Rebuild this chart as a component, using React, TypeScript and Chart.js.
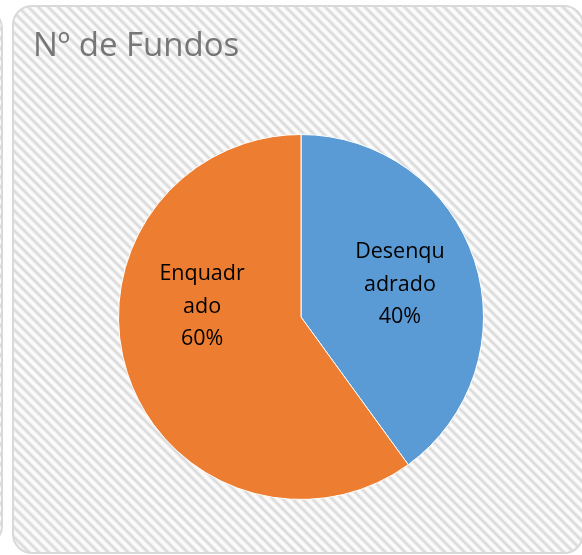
import React, { useEffect, useRef } from "react";
import { Chart, registerables } from "chart.js";

Chart.register(...registerables);

const categories = ["Desenquadrado", "Enquadrado"];
const values = [40, 60];
const labelLines = [
  ["Desenqu", "adrado", "40%"],
  ["Enquadr", "ado", "60%"],
];
const colors = ["#5B9BD5", "#ED7D31"];
const titleText = "Nº de Fundos";

// polar label anchors (degrees from 3 o'clock, fraction of radius)
const labelAngles = [-18, 186];
const labelRadii = [0.57, 0.545];

const sliceLabels = {
  id: "sliceLabels",
  afterDatasetsDraw(chart: any) {
    const ctx = chart.ctx;
    const meta = chart.getDatasetMeta(0);
    ctx.save();
    ctx.font = "21.5px 'Open Sans'";
    ctx.fillStyle = "#000";
    ctx.textAlign = "center";
    ctx.textBaseline = "middle";
    meta.data.forEach((arc: any, i: number) => {
      const a = (labelAngles[i] * Math.PI) / 180;
      const r = arc.outerRadius * labelRadii[i];
      const cx = arc.x + Math.cos(a) * r;
      const cy = arc.y + Math.sin(a) * r;
      const lines = labelLines[i];
      const lh = 32.5;
      lines.forEach((t, j) => {
        ctx.fillText(t, cx, cy + (j - (lines.length - 1) / 2) * lh);
      });
    });
    ctx.restore();
  },
};

export default function App() {
  const ref = useRef<HTMLCanvasElement>(null);
  useEffect(() => {
    document.body.style.margin = "0";
    const chart = new Chart(ref.current!, {
      type: "pie",
      data: {
        labels: categories,
        datasets: [
          {
            data: values,
            backgroundColor: colors,
            borderColor: "#ffffff",
            borderWidth: 1,
          },
        ],
      },
      options: {
        responsive: false,
        animation: false,
        devicePixelRatio: 1,
        layout: { padding: { left: 33, right: 13, top: 20, bottom: 55 } },
        plugins: {
          legend: { display: false },
          tooltip: { enabled: false },
          title: {
            display: true,
            text: titleText,
            align: "start",
            color: "#767676",
            font: { family: "'Open Sans'", size: 33, weight: "normal", lineHeight: 1.2 },
            padding: { top: 7, bottom: 67.4 },
          },
        },
      },
      plugins: [sliceLabels],
    });
    return () => chart.destroy();
  }, []);

  const hatch =
    "repeating-linear-gradient(45deg, #ffffff 0px, #f4f4f4 1.5px, #d6d6d6 3.5px, #f4f4f4 5.5px, #ffffff 7px)";

  return (
    <div style={{ position: "fixed", left: 0, top: 0, width: 582, height: 555, overflow: "hidden", background: "#fff" }}>
      <div
        style={{
          position: "absolute",
          left: -570,
          top: 8,
          width: 573,
          height: 538,
          border: "2px solid #d9d9d9",
          borderRadius: 20,
          background: hatch,
          boxSizing: "border-box",
        }}
      />
      <div
        style={{
          position: "absolute",
          left: 12,
          top: 5,
          width: 572,
          height: 549,
          border: "2px solid #d9d9d9",
          borderRadius: 20,
          background: hatch,
          boxSizing: "border-box",
        }}
      />
      <canvas ref={ref} width={582} height={555} style={{ position: "absolute", left: 0, top: 0 }} />
    </div>
  );
}
